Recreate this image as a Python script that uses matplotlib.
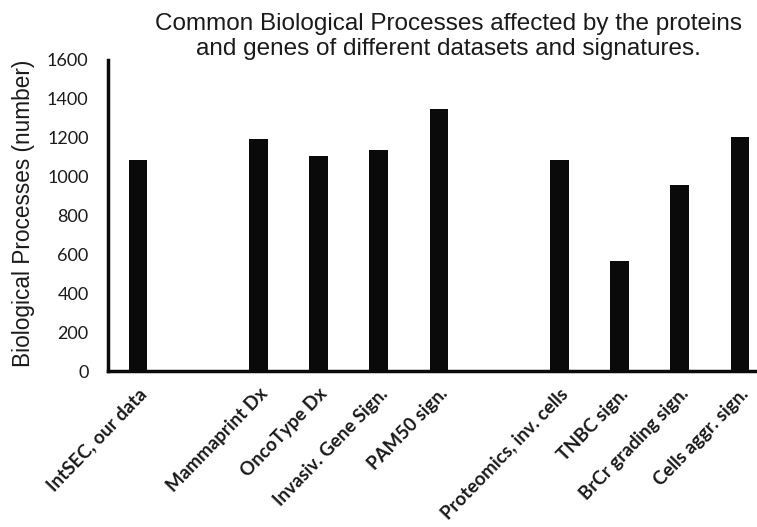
import matplotlib
matplotlib.use("Agg")
import matplotlib.pyplot as plt

categories = ["IntSEC, our data", "", "Mammaprint Dx", "OncoType Dx", "Invasiv. Gene Sign.",
              "PAM50 sign.", "", "Proteomics, inv. cells", "TNBC sign.",
              "BrCr grading sign.", "Cells aggr. sign."]
values = [1087, None, 1192, 1104, 1138, 1349, None, 1084, 566, 955, 1202]
yticks = [0, 200, 400, 600, 800, 1000, 1200, 1400, 1600]

W, H = 757, 527
fig = plt.figure(figsize=(W / 100, H / 100), dpi=100)
left, right, top, bottom = 108, 770, 60, 371
ax = fig.add_axes([left / W, 1 - bottom / H, (right - left) / W, (bottom - top) / H])

xs = [i for i, v in enumerate(values) if v is not None]
vs = [v for v in values if v is not None]
ax.bar(xs, vs, width=0.31, color="#0a0a0a")

ax.set_xlim(-0.5, len(categories) - 0.5)
ax.set_ylim(0, 1600)
ax.set_yticks(yticks)
ax.set_yticklabels([str(t) for t in yticks], family="Lato", fontsize=13, color="#1a1a1a")
ax.set_xticks(range(len(categories)))
ax.set_xticklabels(categories, rotation=46, ha="right", va="top", rotation_mode="anchor",
                   family="Lato", fontweight="bold", fontsize=13.5, color="#1a1a1a")
ax.tick_params(axis="y", length=0, pad=14)
ax.tick_params(axis="x", length=0, pad=10)

for s in ["top", "right"]:
    ax.spines[s].set_visible(False)
ax.spines["left"].set_linewidth(2.5)
ax.spines["bottom"].set_linewidth(2.5)
ax.spines["left"].set_color("#0a0a0a")
ax.spines["bottom"].set_color("#0a0a0a")

ax.set_ylabel("Biological Processes (number)", family="Liberation Sans", fontsize=16.3,
              color="#1a1a1a")
ax.yaxis.set_label_coords(-(left - 24) / (right - left), (bottom - 213) / (bottom - top))
ax.yaxis.label.set_va("center")
ax.yaxis.label.set_ha("center")

fig.text(448 / W, 1 - 13 / H,
         "Common Biological Processes affected by the proteins\nand genes of different datasets and signatures.",
         ha="center", va="top", family="Liberation Sans", fontsize=17.5, color="#1a1a1a",
         linespacing=1.15)

fig.savefig("out.png", dpi=100)
